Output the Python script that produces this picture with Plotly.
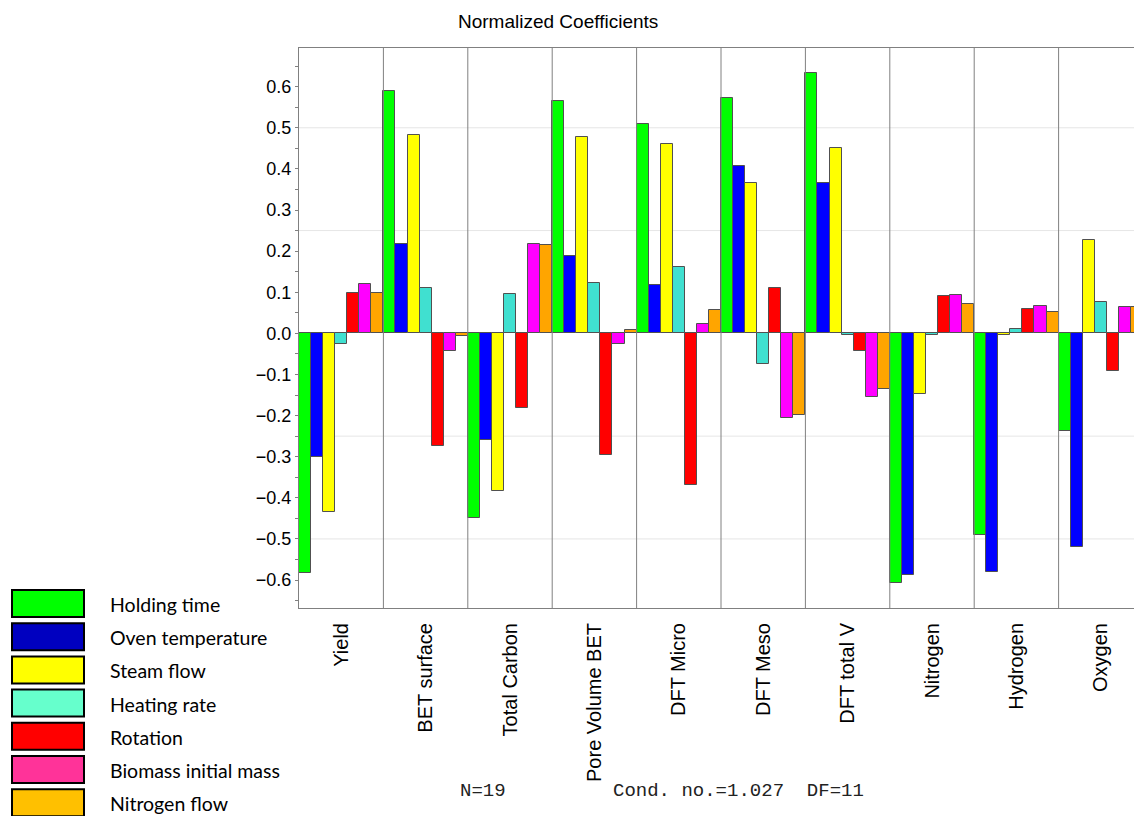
import plotly.graph_objects as go

# ---------------- data ----------------
responses = ["Yield", "BET surface", "Total Carbon", "Pore Volume BET", "DFT Micro",
             "DFT Meso", "DFT total V", "Nitrogen", "Hydrogen", "Oxygen"]
factors = ["Holding time", "Oven temperature", "Steam flow", "Heating rate",
           "Rotation", "Biomass initial mass", "Nitrogen flow"]

holding_time     = [-0.584, 0.589, -0.449, 0.565, 0.510, 0.572, 0.633, -0.606, -0.490, -0.238]
oven_temperature = [-0.300, 0.218, -0.260, 0.188, 0.117, 0.407, 0.366, -0.588, -0.580, -0.520]
steam_flow       = [-0.434, 0.482, -0.384, 0.478, 0.461, 0.366, 0.451, -0.148, -0.004, 0.228]
heating_rate     = [-0.025, 0.110, 0.096, 0.123, 0.161, -0.075, -0.003, -0.003, 0.010, 0.076]
rotation         = [0.099, -0.275, -0.181, -0.296, -0.369, 0.110, -0.042, 0.092, 0.060, -0.092]
biomass_mass     = [0.119, -0.042, 0.217, -0.026, 0.023, -0.205, -0.154, 0.093, 0.066, 0.063]
nitrogen_flow    = [0.097, -0.007, 0.215, 0.008, 0.057, -0.198, -0.135, 0.072, 0.051, 0.063]

series = [holding_time, oven_temperature, steam_flow, heating_rate,
          rotation, biomass_mass, nitrogen_flow]
bar_colors = ["#00FF00", "#0000FF", "#FFFF00", "#40E0D0", "#FF0000", "#FF00FF", "#FFA500"]
legend_colors = ["#00FF00", "#0000C0", "#FFFF00", "#66FFCC", "#FF0000", "#FF3399", "#FFC000"]

y_ticks = [-0.6, -0.5, -0.4, -0.3, -0.2, -0.1, 0.0, 0.1, 0.2, 0.3, 0.4, 0.5, 0.6]
grid_levels = [-0.5, -0.25, 0.25, 0.5]

title_text = "Normalized Coefficients"
stats_n = "N=19"
stats_rest = "Cond. no.=1.027  DF=11"

# ---------------- layout constants (pixels) ----------------
W, H = 1134, 816
L, T, B = 299, 48, 208
plot_w = W - L
plot_h = H - T - B
group_px = 84.4

def px_x(px):
    return (px - L) / plot_w

def px_y(py):
    return (H - B - py) / plot_h

xpos = list(range(len(responses)))

fig = go.Figure()
for name, vals, col in zip(factors, series, bar_colors):
    fig.add_trace(go.Bar(
        x=xpos, y=vals, name=name,
        marker=dict(color=col, line=dict(color="#505050", width=1)),
        showlegend=False,
    ))

shapes = []
# horizontal faint grid
for g in grid_levels:
    shapes.append(dict(type="line", xref="paper", yref="y", x0=0, x1=1, y0=g, y1=g,
                       line=dict(color="#E6E6E6", width=1), layer="below"))
# vertical separators between groups
for i in range(len(responses)):
    sx = i + 0.5
    shapes.append(dict(type="line", xref="x", yref="paper", x0=sx, x1=sx, y0=0, y1=1,
                       line=dict(color="#808080", width=1), layer="above"))

annotations = [
    dict(text=title_text, xref="paper", yref="paper", x=px_x(558), y=px_y(22),
         xanchor="center", yanchor="middle", showarrow=False,
         font=dict(family="Liberation Sans, Arial", size=19, color="#000000")),
    dict(text=stats_n, xref="paper", yref="paper", x=px_x(458), y=px_y(791),
         xanchor="left", yanchor="middle", showarrow=False,
         font=dict(family="Liberation Mono, Courier New", size=19, color="#222222")),
    dict(text=stats_rest, xref="paper", yref="paper", x=px_x(611), y=px_y(791),
         xanchor="left", yanchor="middle", showarrow=False,
         font=dict(family="Liberation Mono, Courier New", size=19, color="#222222")),
]

# custom legend (swatches + labels)
row0, row_step = 603.5, 33.2
for k, (name, col) in enumerate(zip(factors, legend_colors)):
    cy = row0 + k * row_step
    shapes.append(dict(type="rect", xref="paper", yref="paper",
                       x0=px_x(12), x1=px_x(84), y0=px_y(cy - 13.5), y1=px_y(cy + 13.5),
                       fillcolor=col, line=dict(color="#000000", width=2), layer="above"))
    annotations.append(dict(text=name, xref="paper", yref="paper", x=px_x(108), y=px_y(cy + 1),
                            xanchor="left", yanchor="middle", showarrow=False,
                            font=dict(family="Lato, Open Sans", size=19.5, color="#000000")))

fig.update_layout(
    width=W, height=H,
    margin=dict(l=L, r=0, t=T, b=B, pad=0),
    paper_bgcolor="white", plot_bgcolor="white",
    barmode="group", bargap=0, bargroupgap=0,
    shapes=shapes, annotations=annotations,
    showlegend=False,
    xaxis=dict(
        range=[-0.5, -0.5 + plot_w / group_px],
        tickmode="array", tickvals=xpos, ticktext=responses,
        tickangle=-90, ticks="", showgrid=False, zeroline=False,
        showline=True, mirror=True, linecolor="#808080", linewidth=1,
        tickfont=dict(family="Liberation Sans, Arial", size=20, color="#000000"),
        ticklabelstandoff=6,
    ),
    yaxis=dict(
        range=[-0.668, 0.694],
        tickmode="array", tickvals=y_ticks, tickformat=".1f",
        ticks="outside", ticklen=3, tickcolor="#808080",
        minor=dict(dtick=0.05, ticks="outside", ticklen=3, tickcolor="#808080", showgrid=False),
        showgrid=False, zeroline=False,
        showline=True, mirror=True, linecolor="#808080", linewidth=1,
        tickfont=dict(family="Liberation Sans, Arial", size=18, color="#000000"),
    ),
)

fig.write_html("out.html", config={"displayModeBar": False},
               post_script="document.body.style.margin='0';document.body.style.overflow='hidden';")
